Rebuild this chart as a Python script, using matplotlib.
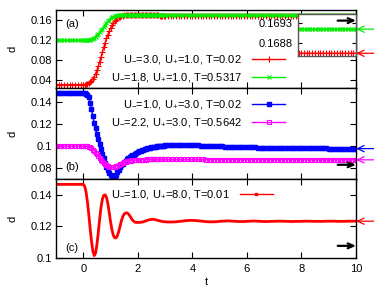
"""
Three stacked panels of d(t) with an inset, gnuplot-like look
"""

import numpy as np
import matplotlib
matplotlib.use('Agg')
import matplotlib.pyplot as plt

plt.rcParams['font.family'] = ['Liberation Sans', 'DejaVu Sans']
plt.rcParams['mathtext.fontset'] = 'custom'
plt.rcParams['mathtext.rm'] = 'Liberation Sans'
plt.rcParams['mathtext.it'] = 'Liberation Sans:italic'
plt.rcParams['font.size'] = 8

# sample times: 0.1 before the quench, 0.05 during the transient, 0.1 after
t = np.round(np.concatenate([np.arange(-1.0, -0.05, 0.1),
                             np.arange(0.0, 2.99, 0.05),
                             np.arange(3.0, 10.05, 0.1)]), 2)

# panel (a)
red_a = [
    # -1.0 .. -0.1
    0.0314, 0.0314, 0.0314, 0.0314, 0.0314, 0.0314, 0.0314, 0.0314, 0.0314, 0.0314,
    # 0.00 .. 2.95
    0.0314, 0.0316, 0.0320, 0.0330, 0.0345, 0.0367, 0.0395, 0.0430, 0.0475, 0.0532,
    0.0600, 0.0680, 0.0770, 0.0865, 0.0960, 0.1055, 0.1150, 0.1235, 0.1310, 0.1378,
    0.1440, 0.1493, 0.1540, 0.1578, 0.1610, 0.1635, 0.1655, 0.1669, 0.1680, 0.1687,
    0.1692, 0.1695, 0.1697, 0.1698, 0.1699, 0.1699, 0.1699, 0.1699, 0.1698, 0.1698,
    0.1697, 0.1697, 0.1696, 0.1696, 0.1695, 0.1695, 0.1694, 0.1694, 0.1693, 0.1693,
    0.1692, 0.1692, 0.1691, 0.1691, 0.1691, 0.1691, 0.1690, 0.1690, 0.1690, 0.1690,
    # 3.0 .. 10.0
    0.1689, 0.1689, 0.1689, 0.1688, 0.1688, 0.1688, 0.1688, 0.1687, 0.1687, 0.1687,
    0.1687, 0.1687, 0.1687, 0.1686, 0.1686, 0.1686, 0.1686, 0.1686, 0.1686, 0.1686,
    0.16860, 0.16860, 0.16859, 0.16859, 0.16858, 0.16858, 0.16857, 0.16857, 0.16856, 0.16856,
    0.16856, 0.16855, 0.16855, 0.16855, 0.16854, 0.16854, 0.16854, 0.16854, 0.16853, 0.16853,
    0.16853, 0.16853, 0.16853, 0.16853, 0.16853, 0.16853, 0.16853, 0.16853, 0.16853, 0.16853,
    0.16853, 0.16853, 0.16853, 0.16853, 0.16853, 0.16853, 0.16853, 0.16853, 0.16853, 0.16853,
    0.16853, 0.16853, 0.16853, 0.16853, 0.16853, 0.16853, 0.16853, 0.16853, 0.16853, 0.16853,
    0.16853]
green_a = [
    0.1195, 0.1195, 0.1195, 0.1195, 0.1195, 0.1195, 0.1195, 0.1195, 0.1195, 0.1195,
    0.1195, 0.1195, 0.1196, 0.1197, 0.1200, 0.1206, 0.1215, 0.1230, 0.1250, 0.1273,
    0.1300, 0.1329, 0.1360, 0.1394, 0.1430, 0.1470, 0.1510, 0.1546, 0.1580, 0.1610,
    0.1635, 0.1655, 0.1670, 0.1680, 0.1688, 0.1693, 0.1696, 0.1698, 0.1699, 0.1700,
    0.1700, 0.1700, 0.1700, 0.1699, 0.1699, 0.1698, 0.1698, 0.1698, 0.1698, 0.1697,
    0.1697, 0.1697, 0.1697, 0.1696, 0.1696, 0.1696, 0.1696, 0.1695, 0.1695, 0.1695,
    0.1695, 0.1695, 0.1695, 0.1694, 0.1694, 0.1694, 0.1694, 0.1694, 0.1694, 0.1694,
    0.1694, 0.1693, 0.1693, 0.1693, 0.1693, 0.1693, 0.1693, 0.1692, 0.1692, 0.1692,
    0.16920, 0.16920, 0.16920, 0.16920, 0.16920, 0.16919, 0.16919, 0.16919, 0.16919, 0.16919,
    0.16919, 0.16918, 0.16918, 0.16918, 0.16917, 0.16917, 0.16917, 0.16917, 0.16916, 0.16916,
    0.16916, 0.16916, 0.16916, 0.16916, 0.16916, 0.16915, 0.16915, 0.16915, 0.16915, 0.16915,
    0.16915, 0.16915, 0.16915, 0.16915, 0.16915, 0.16915, 0.16915, 0.16915, 0.16915, 0.16915,
    0.16915, 0.16915, 0.16915, 0.16915, 0.16915, 0.16915, 0.16915, 0.16915, 0.16915, 0.16915,
    0.16915, 0.16915, 0.16915, 0.16915, 0.16915, 0.16915, 0.16915, 0.16915, 0.16915, 0.16915,
    0.16915]

# panel (b)
blue_b = [
    0.1482, 0.1482, 0.1482, 0.1482, 0.1482, 0.1482, 0.1482, 0.1482, 0.1482, 0.1482,
    0.1482, 0.1482, 0.1478, 0.1465, 0.1445, 0.1395, 0.1335, 0.1275, 0.1215, 0.1162,
    0.1110, 0.1062, 0.1015, 0.0972, 0.0930, 0.0889, 0.0850, 0.0814, 0.0782, 0.0755,
    0.0735, 0.0718, 0.0712, 0.0718, 0.0735, 0.0760, 0.0785, 0.0806, 0.0825, 0.0841,
    0.0855, 0.0867, 0.0878, 0.0888, 0.0898, 0.0907, 0.0915, 0.0923, 0.0931, 0.0938,
    0.0945, 0.0951, 0.0957, 0.0962, 0.0967, 0.0972, 0.0976, 0.0980, 0.0983, 0.0986,
    0.0989, 0.0992, 0.0994, 0.0996, 0.0998, 0.1000, 0.1001, 0.1003, 0.1004, 0.1005,
    0.1006, 0.1008, 0.1009, 0.1010, 0.1011, 0.1011, 0.1011, 0.1010, 0.1010, 0.1009,
    0.1008, 0.1007, 0.1006, 0.1005, 0.1004, 0.1003, 0.1002, 0.1001, 0.1000, 0.0999,
    0.0998, 0.0997, 0.0996, 0.0995, 0.0994, 0.0993, 0.0993, 0.0992, 0.0991, 0.0990,
    0.0990, 0.0989, 0.0988, 0.0988, 0.0987, 0.0987, 0.0986, 0.0986, 0.0985, 0.0985,
    0.0984, 0.0984, 0.0983, 0.0983, 0.0983, 0.0982, 0.0982, 0.0982, 0.0981, 0.0981,
    0.0981, 0.0980, 0.0980, 0.0980, 0.0980, 0.0979, 0.0979, 0.0979, 0.0979, 0.0979,
    0.0978, 0.0978, 0.0978, 0.0978, 0.0978, 0.0978, 0.0977, 0.0977, 0.0977, 0.0977,
    0.0977]
magenta_b = [
    0.1000, 0.1000, 0.1000, 0.1000, 0.1000, 0.1000, 0.1000, 0.1000, 0.1000, 0.1000,
    0.1000, 0.1000, 0.1000, 0.0999, 0.0995, 0.0989, 0.0980, 0.0969, 0.0955, 0.0940,
    0.0925, 0.0908, 0.0890, 0.0875, 0.0860, 0.0847, 0.0835, 0.0825, 0.0817, 0.0811,
    0.0808, 0.0806, 0.0807, 0.0810, 0.0815, 0.0821, 0.0828, 0.0835, 0.0841, 0.0847,
    0.0852, 0.0856, 0.0860, 0.0863, 0.0866, 0.0868, 0.0870, 0.0872, 0.0873, 0.0874,
    0.0875, 0.0876, 0.0876, 0.0877, 0.0877, 0.0877, 0.0877, 0.0878, 0.0878, 0.0878,
    0.0878, 0.0878, 0.0878, 0.0878, 0.0878, 0.0878, 0.0878, 0.0878, 0.0878, 0.0878,
    0.0878, 0.0878, 0.0878, 0.0878, 0.0878, 0.0878, 0.0878, 0.0878, 0.0878, 0.0878,
    0.0878, 0.0878, 0.0878, 0.0878, 0.0878, 0.0877, 0.0877, 0.0877, 0.0877, 0.0877,
    0.0877, 0.0877, 0.0877, 0.0877, 0.0877, 0.0877, 0.0877, 0.0877, 0.0877, 0.0877,
    0.0876, 0.0876, 0.0876, 0.0876, 0.0876, 0.0876, 0.0876, 0.0876, 0.0876, 0.0876,
    0.0876, 0.0876, 0.0876, 0.0876, 0.0876, 0.0876, 0.0876, 0.0876, 0.0876, 0.0876,
    0.0875, 0.0875, 0.0875, 0.0875, 0.0875, 0.0875, 0.0875, 0.0875, 0.0875, 0.0875,
    0.0875, 0.0875, 0.0875, 0.0875, 0.0875, 0.0875, 0.0875, 0.0875, 0.0875, 0.0875,
    0.0875]

# panel (c)
red_c = [
    0.1466, 0.1466, 0.1466, 0.1466, 0.1466, 0.1466, 0.1466, 0.1466, 0.1466, 0.1466,
    0.1466, 0.1455, 0.1420, 0.1360, 0.1280, 0.1190, 0.1110, 0.1045, 0.1015, 0.1030,
    0.1085, 0.1160, 0.1245, 0.1320, 0.1372, 0.1397, 0.1400, 0.1385, 0.1345, 0.1290,
    0.1230, 0.1180, 0.1145, 0.1128, 0.1127, 0.1140, 0.1168, 0.1203, 0.1237, 0.1262,
    0.1278, 0.1285, 0.1286, 0.1280, 0.1268, 0.1254, 0.1241, 0.1232, 0.1227, 0.1225,
    0.1225, 0.1225, 0.1226, 0.1227, 0.1229, 0.1232, 0.1235, 0.1238, 0.1241, 0.1243,
    0.1244, 0.1245, 0.1244, 0.1242, 0.1240, 0.1237, 0.1235, 0.1233, 0.1231, 0.1230,
    0.1229, 0.1228, 0.1228, 0.1228, 0.1229, 0.1231, 0.1233, 0.1235, 0.1237, 0.1238,
    0.1238, 0.1237, 0.1236, 0.1234, 0.1232, 0.1230, 0.1229, 0.1229, 0.1229, 0.1230,
    0.1232, 0.1233, 0.1234, 0.1235, 0.1234, 0.1233, 0.1232, 0.1231, 0.1231, 0.1231,
    0.1232, 0.1233, 0.1234, 0.1234, 0.1233, 0.1232, 0.1231, 0.1231, 0.1231, 0.1232,
    0.1232, 0.1233, 0.1233, 0.1233, 0.1232, 0.1232, 0.1231, 0.1231, 0.1232, 0.1232,
    0.1232, 0.1233, 0.1233, 0.1233, 0.1232, 0.1232, 0.1232, 0.1232, 0.1232, 0.1233,
    0.1233, 0.1233, 0.1233, 0.1232, 0.1232, 0.1232, 0.1232, 0.1233, 0.1233, 0.1233,
    0.1233]

labels_a = [r'U$_{-}$=3.0, U$_{+}$=1.0, T=0.02', r'U$_{-}$=1.8, U$_{+}$=1.0, T=0.5317']
labels_b = [r'U$_{-}$=1.0, U$_{+}$=3.0, T=0.02', r'U$_{-}$=2.2, U$_{+}$=3.0, T=0.5642']
labels_c = [r'U$_{-}$=1.0, U$_{+}$=8.0, T=0.01']

# arrow levels (y values)
arrows_a = {'green': 0.16915, 'red': 0.16853, 'black': 0.16937}
arrows_b = {'blue': 0.0977, 'magenta': 0.0875, 'black': 0.0830}
arrows_c = {'red': 0.1233, 'black': 0.1077}

RED, GREEN, BLUE, MAGENTA = '#ff0000', '#00ee00', '#0000ff', '#ff00ff'
XTICKS = [0, 2, 4, 6, 8, 10]

W, H = 374, 288


def px_axes(fig, x0, y0, x1, y1):
    """Add axes given in pixel box (top-left origin)"""
    return fig.add_axes([x0 / W, 1 - y1 / H, (x1 - x0) / W, (y1 - y0) / H])


def style_axes(ax, ylim, yticks, show_x):
    ax.set_xlim(-1, 10)
    ax.set_ylim(*ylim)
    ax.set_xticks(XTICKS)
    ax.set_yticks(yticks)
    ax.set_yticklabels(['%g' % v for v in yticks])
    ax.tick_params(direction='in', length=4, width=0.8, top=True, right=True,
                   labelsize=8, pad=3)
    ax.tick_params(axis='x', pad=4.5)
    if not show_x:
        ax.set_xticklabels([])
    ax.set_ylabel('d', fontsize=8)
    ax.yaxis.set_label_coords(-0.128, 0.5)
    for s in ax.spines.values():
        s.set_linewidth(1.0)


def add_arrow(ax, y, color, inside=False):
    if inside:
        ax.annotate('', xy=(10, y), xytext=(9.33, y), annotation_clip=False,
                    arrowprops=dict(arrowstyle='->,head_length=0.5,head_width=0.22',
                                    color=color, lw=1.6, shrinkA=0, shrinkB=0))
    else:
        ax.annotate('', xy=(10, y), xytext=(10.8, y), annotation_clip=False,
                    arrowprops=dict(arrowstyle='->,head_length=0.6,head_width=0.28',
                                    color=color, lw=0.9, shrinkA=0, shrinkB=0))


def add_legend(ax, y, handles=None):
    kw = dict(loc='center left', bbox_to_anchor=(0.183, y), frameon=False,
              markerfirst=False, handlelength=3.0, borderpad=0, borderaxespad=0,
              handletextpad=0.9, labelspacing=0.45, fontsize=8)
    if handles is None:
        ax.legend(**kw)
    else:
        ax.legend(handles=handles, **kw)


fig = plt.figure(figsize=(W / 100, H / 100), dpi=100)

ax_a = px_axes(fig, 56, 10, 356, 88)
ax_b = px_axes(fig, 56, 88, 356, 179)
ax_c = px_axes(fig, 56, 179, 356, 258)

# (a)
ax_a.plot(t, red_a, color=RED, lw=1, marker='+', ms=4, mew=0.8, label=labels_a[0])
ax_a.plot(t, green_a, color=GREEN, lw=1, marker='x', ms=3.2, mew=0.8, label=labels_a[1])
style_axes(ax_a, (0.025, 0.18), [0.04, 0.08, 0.12, 0.16], False)
add_legend(ax_a, 0.25)
ax_a.text(0.03, 0.82, '(a)', transform=ax_a.transAxes, va='center', fontsize=8)

# inset of (a)
ax_in = px_axes(fig, 298, 14, 356, 56)
ax_in.plot(t, red_a, color=RED, lw=1, marker='+', ms=4, mew=0.8)
ax_in.plot(t, green_a, color=GREEN, lw=1, marker='x', ms=3.2, mew=0.8)
ax_in.set_xlim(7.88, 10)
ax_in.set_ylim(0.16846, 0.16954)
ax_in.set_xticks([])
ax_in.set_yticks([0.1688, 0.1693])
ax_in.set_yticklabels(['0.1688', '0.1693'])
ax_in.tick_params(direction='in', length=3, width=0.8, right=True, labelsize=8, pad=4)
for s in ax_in.spines.values():
    s.set_color('#555555')
    s.set_linewidth(1.0)
add_arrow(ax_in, arrows_a['green'], GREEN)
add_arrow(ax_in, arrows_a['red'], RED)
add_arrow(ax_in, arrows_a['black'], 'black', inside=True)

# (b)
ax_b.plot(t, blue_b, color=BLUE, lw=1, marker='s', ms=2.4, label=labels_b[0])
ax_b.plot(t, magenta_b, color=MAGENTA, lw=1, marker='s', ms=3.0, mfc='none',
          mew=0.8, label=labels_b[1])
style_axes(ax_b, (0.070, 0.153), [0.08, 0.1, 0.12, 0.14], False)
add_legend(ax_b, 0.715)
ax_b.text(0.03, 0.13, '(b)', transform=ax_b.transAxes, va='center', fontsize=8)
add_arrow(ax_b, arrows_b['blue'], BLUE)
add_arrow(ax_b, arrows_b['magenta'], MAGENTA)
add_arrow(ax_b, arrows_b['black'], 'black', inside=True)

# (c)
ax_c.plot(t, red_c, color=RED, lw=2.0)
key_c, = ax_c.plot([], [], color=RED, lw=1, marker='s', ms=2, label=labels_c[0])
style_axes(ax_c, (0.1, 0.15), [0.1, 0.12, 0.14], True)
add_legend(ax_c, 0.805, handles=[key_c])
ax_c.text(0.03, 0.13, '(c)', transform=ax_c.transAxes, va='center', fontsize=8)
ax_c.set_xlabel('t', fontsize=8)
ax_c.xaxis.set_label_coords(0.5, -0.245)
add_arrow(ax_c, arrows_c['red'], RED)
add_arrow(ax_c, arrows_c['black'], 'black', inside=True)

fig.savefig('out.png', dpi=100)
